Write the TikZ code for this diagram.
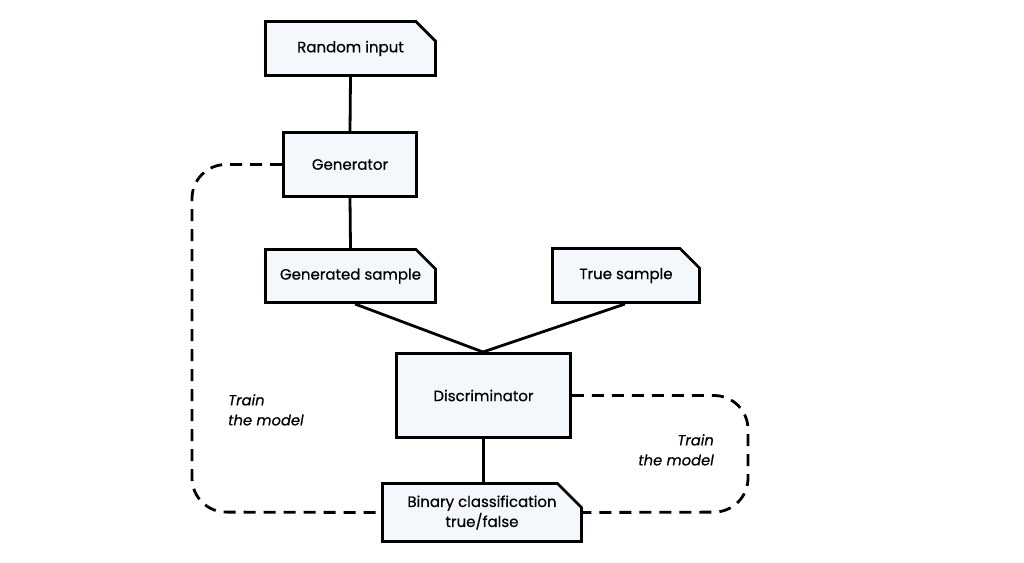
\documentclass[tikz,border=0pt]{standalone}
\usepackage{fontspec}
\setmainfont{Poppins}[FakeBold=0.5]
\usetikzlibrary{shapes.misc}
\definecolor{boxfill}{HTML}{F4F7FC}
\tikzset{
  every node/.style={font=\fontsize{15}{20}\selectfont},
  base/.style={draw=black, line width=2.8pt, fill=boxfill, inner sep=0pt, align=center},
  plainbox/.style={base, rectangle},
  notebox/.style={base, chamfered rectangle, chamfered rectangle corners=north east,
     chamfered rectangle xsep=12pt, chamfered rectangle ysep=12pt},
  link/.style={line width=2.8pt},
  loop/.style={line width=2.8pt, dash pattern=on 12pt off 8pt, rounded corners=34pt},
  lbl/.style={font=\fontsize{14.7}{20}\selectfont\itshape, inner sep=0pt}
}
\begin{document}
\begin{tikzpicture}[x=1pt,y=-1pt]
\useasboundingbox (0,0) rectangle (1024,562);
\node[notebox, minimum width=170pt, minimum height=54pt] (rnd) at (350.5,48.5) {Random input};
\node[plainbox, minimum width=133pt, minimum height=64pt] (gen) at (350,164.5) {Generator};
\node[notebox, minimum width=170pt, minimum height=53pt] (gs) at (350.5,276) {Generated sample};
\node[notebox, minimum width=147pt, minimum height=54pt] (ts) at (626,275.5) {True sample};
\node[plainbox, minimum width=174pt, minimum height=84pt] (dis) at (483.5,395.5) {Discriminator};
\node[notebox, minimum width=199pt, minimum height=54pt] (bin) at (482,512.5) {Binary classification\\true/false};
\coordinate (dtop) at (483,352);
\draw[link] (rnd.south) -- (gen.north);
\draw[link] (gen.south) -- (gs.north);
\draw[link] (355,304) -- (dtop);
\draw[link] (625,304) -- (dtop);
\draw[link] (dis.south) -- (dis.south |- bin.north);
\draw[loop] (gen.west) -| (192,512) -- (bin.west);
\draw[loop] (dis.east) -| (748,512) -- (bin.east);
\node[lbl, align=left, anchor=north west] (l1) at (228,394) {Train\\the model};
\node[lbl, align=right, anchor=north east] (l2) at (714,434) {Train\\the model};
\end{tikzpicture}
\end{document}
